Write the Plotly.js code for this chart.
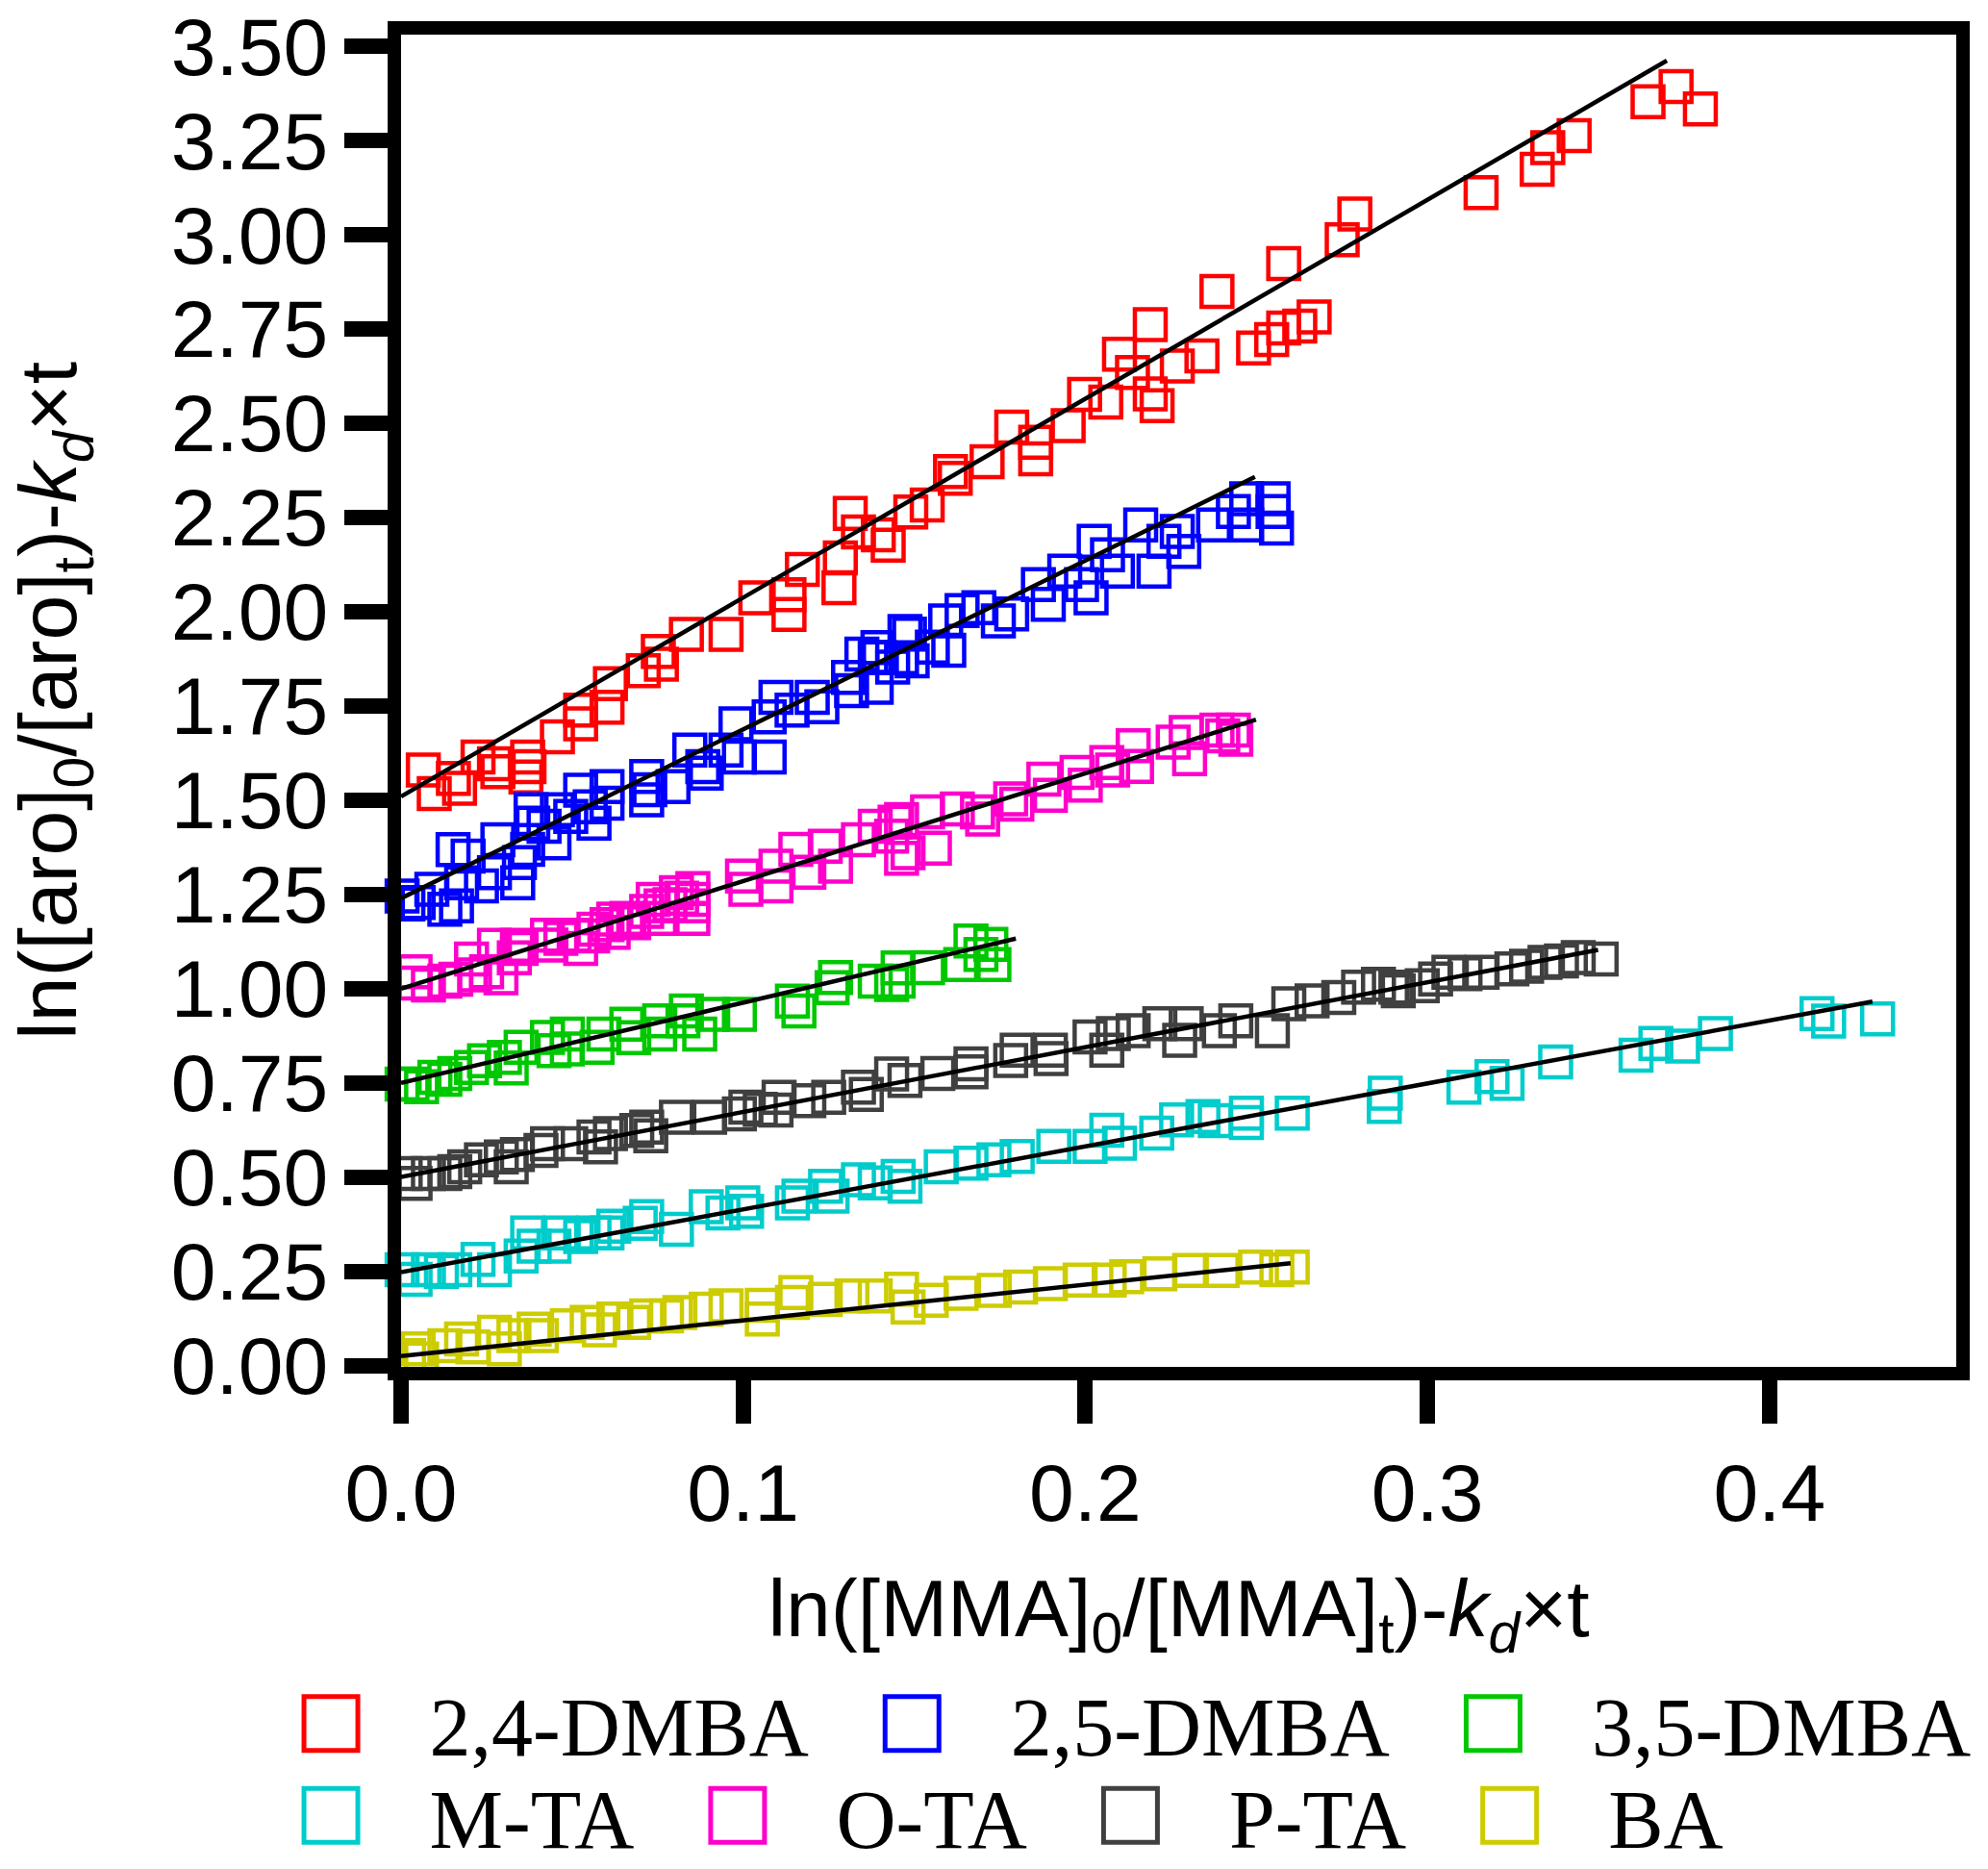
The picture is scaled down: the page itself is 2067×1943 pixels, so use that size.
<!DOCTYPE html>
<html>
<head>
<meta charset="utf-8">
<script src="https://cdn.plot.ly/plotly-3.0.1.min.js"></script>
<style>
  html, body { margin: 0; padding: 0; background: #fff; }
  #chart { width: 2067px; height: 1943px; }
</style>
</head>
<body>
<div id="chart"></div>
<script>
// 2,4-DMBA
const dmba24X = [0.0065, 0.0097, 0.0153, 0.0171, 0.0225, 0.0273, 0.0283, 0.0365, 0.0370, 0.0374,
  0.0457, 0.0525, 0.0525, 0.0602, 0.0612, 0.0708, 0.0752, 0.0761, 0.0834, 0.0950,
  0.1037, 0.1134, 0.1134, 0.1173, 0.1280, 0.1284, 0.1313, 0.1337, 0.1395, 0.1424,
  0.1490, 0.1538, 0.1606, 0.1620, 0.1713, 0.1785, 0.1855, 0.1855, 0.1950, 0.1998,
  0.2060, 0.2100, 0.2138, 0.2190, 0.2190, 0.2210, 0.2269, 0.2341, 0.2385, 0.2492,
  0.2545, 0.2580, 0.2627, 0.2669, 0.2580, 0.2751, 0.2788, 0.3157, 0.3321, 0.3352,
  0.3429, 0.3645, 0.3727, 0.3798];
const dmba24Y = [1.580, 1.518, 1.558, 1.532, 1.615, 1.597, 1.576, 1.562, 1.615, 1.589,
  1.668, 1.703, 1.739, 1.747, 1.809, 1.844, 1.895, 1.861, 1.940, 1.940,
  2.037, 1.993, 2.045, 2.112, 2.064, 2.143, 2.261, 2.212, 2.204, 2.177,
  2.265, 2.283, 2.372, 2.354, 2.398, 2.490, 2.450, 2.406, 2.494, 2.577,
  2.556, 2.683, 2.635, 2.762, 2.578, 2.547, 2.652, 2.679, 2.850, 2.700,
  2.722, 2.753, 2.758, 2.782, 2.924, 2.987, 3.055, 3.112, 3.174, 3.231,
  3.263, 3.353, 3.393, 3.334];

// 2,5-DMBA
const dmba25X = [0.0003, 0.0020, 0.0050, 0.0090, 0.0128, 0.0152, 0.0162, 0.0177, 0.0196, 0.0235,
  0.0273, 0.0283, 0.0341, 0.0346, 0.0370, 0.0380, 0.0385, 0.0418, 0.0447, 0.0457,
  0.0496, 0.0525, 0.0553, 0.0564, 0.0602, 0.0602, 0.0718, 0.0727, 0.0718, 0.0795,
  0.0844, 0.0882, 0.0892, 0.0950, 0.0979, 0.0989, 0.1076, 0.1076, 0.1096, 0.1143,
  0.1202, 0.1230, 0.1308, 0.1317, 0.1347, 0.1386, 0.1394, 0.1463, 0.1473, 0.1389,
  0.1398, 0.1437, 0.1486, 0.1494, 0.1553, 0.1592, 0.1601, 0.1640, 0.1689, 0.1746,
  0.1785, 0.1863, 0.1892, 0.1940, 0.1989, 0.2017, 0.2026, 0.2065, 0.2094, 0.2162,
  0.2201, 0.2230, 0.2269, 0.2288, 0.2375, 0.2433, 0.2472, 0.2472, 0.2549, 0.2559,
  0.2549];
const dmba25Y = [1.246, 1.225, 1.229, 1.264, 1.211, 1.369, 1.220, 1.281, 1.352, 1.273,
  1.308, 1.395, 1.281, 1.335, 1.370, 1.475, 1.439, 1.431, 1.387, 1.475,
  1.457, 1.527, 1.483, 1.439, 1.536, 1.492, 1.563, 1.528, 1.501, 1.536,
  1.633, 1.589, 1.572, 1.633, 1.703, 1.615, 1.615, 1.721, 1.773, 1.739,
  1.773, 1.748, 1.826, 1.791, 1.888, 1.878, 1.905, 1.878, 1.948, 1.800,
  1.879, 1.853, 1.941, 1.870, 1.906, 1.976, 1.898, 2.003, 2.011, 1.976,
  1.994, 2.072, 2.020, 2.108, 2.072, 2.037, 2.187, 2.151, 2.108, 2.230,
  2.108, 2.187, 2.213, 2.160, 2.230, 2.266, 2.230, 2.300, 2.266, 2.222,
  2.300];

// 3,5-DMBA
const dmba35X = [0.0003, 0.0032, 0.0060, 0.0099, 0.0128, 0.0157, 0.0206, 0.0244, 0.0302, 0.0322,
  0.0351, 0.0428, 0.0447, 0.0486, 0.0486, 0.0573, 0.0593, 0.0660, 0.0680, 0.0756,
  0.0756, 0.0824, 0.0834, 0.0873, 0.0911, 0.0989, 0.1144, 0.1163, 0.1260, 0.1270,
  0.1386, 0.1434, 0.1453, 0.1453, 0.1539, 0.1636, 0.1666, 0.1695, 0.1724, 0.1733];
const dmba35Y = [0.747, 0.747, 0.740, 0.765, 0.760, 0.775, 0.791, 0.809, 0.818, 0.790,
  0.845, 0.871, 0.836, 0.880, 0.840, 0.845, 0.880, 0.906, 0.870, 0.915,
  0.880, 0.915, 0.941, 0.880, 0.932, 0.932, 0.967, 0.941, 1.003, 1.030,
  1.020, 1.011, 1.055, 1.020, 1.056, 1.064, 1.127, 1.091, 1.118, 1.064];

// M-TA
const mtaX = [0.0003, 0.0041, 0.0080, 0.0118, 0.0157, 0.0225, 0.0273, 0.0351, 0.0370, 0.0389,
  0.0447, 0.0467, 0.0525, 0.0564, 0.0602, 0.0622, 0.0699, 0.0718, 0.0805, 0.0892,
  0.0941, 0.0999, 0.1010, 0.1144, 0.1163, 0.1241, 0.1260, 0.1337, 0.1386, 0.1453,
  0.1473, 0.1579, 0.1666, 0.1733, 0.1801, 0.1908, 0.2014, 0.2063, 0.2100, 0.2209,
  0.2267, 0.2344, 0.2380, 0.2471, 0.2471, 0.2605, 0.2877, 0.2874, 0.3107, 0.3189,
  0.3233, 0.3375, 0.3610, 0.3668, 0.3746, 0.3842, 0.4139, 0.4173, 0.4316];
const mtaY = [0.255, 0.229, 0.255, 0.250, 0.255, 0.282, 0.255, 0.291, 0.352, 0.317,
  0.317, 0.352, 0.343, 0.352, 0.352, 0.370, 0.378, 0.396, 0.362, 0.422,
  0.405, 0.432, 0.410, 0.432, 0.450, 0.476, 0.450, 0.493, 0.485, 0.502,
  0.476, 0.528, 0.537, 0.546, 0.555, 0.582, 0.582, 0.625, 0.590, 0.617,
  0.652, 0.661, 0.650, 0.670, 0.645, 0.670, 0.723, 0.688, 0.739, 0.767,
  0.749, 0.806, 0.824, 0.855, 0.848, 0.881, 0.934, 0.914, 0.920];

// O-TA
const otaX = [0.0041, 0.0080, 0.0128, 0.0160, 0.0215, 0.0250, 0.0292, 0.0331, 0.0351, 0.0438,
  0.0467, 0.0525, 0.0560, 0.0602, 0.0620, 0.0660, 0.0680, 0.0718, 0.0756, 0.0786,
  0.0820, 0.0853, 0.0853, 0.0041, 0.0206, 0.0273, 0.0340, 0.0428, 0.0506, 0.0564,
  0.0622, 0.0660, 0.0737, 0.0760, 0.0805, 0.0853, 0.0853, 0.0998, 0.1008, 0.1096,
  0.1096, 0.1154, 0.1192, 0.1240, 0.1270, 0.1337, 0.1386, 0.1434, 0.1463, 0.1482,
  0.1444, 0.1463, 0.1539, 0.1559, 0.1626, 0.1685, 0.1700, 0.1782, 0.1800, 0.1879,
  0.1898, 0.1976, 0.2000, 0.2063, 0.2080, 0.2140, 0.2150, 0.2257, 0.2295, 0.2305,
  0.2402, 0.2440, 0.2385, 0.2433];
const otaY = [1.015, 1.010, 1.020, 1.025, 1.037, 1.045, 1.029, 1.082, 1.107, 1.116,
  1.134, 1.107, 1.140, 1.170, 1.150, 1.187, 1.175, 1.205, 1.187, 1.223,
  1.240, 1.187, 1.266, 1.045, 1.079, 1.115, 1.115, 1.142, 1.142, 1.158,
  1.185, 1.180, 1.237, 1.220, 1.255, 1.237, 1.220, 1.299, 1.264, 1.273,
  1.325, 1.370, 1.309, 1.378, 1.325, 1.395, 1.431, 1.405, 1.449, 1.361,
  1.442, 1.346, 1.469, 1.373, 1.477, 1.469, 1.450, 1.504, 1.490, 1.556,
  1.513, 1.574, 1.540, 1.600, 1.580, 1.645, 1.590, 1.654, 1.680, 1.610,
  1.671, 1.662, 1.686, 1.686];

// P-TA
const ptaX = [0.0012, 0.0041, 0.0080, 0.0128, 0.0157, 0.0186, 0.0235, 0.0293, 0.0322, 0.0340,
  0.0409, 0.0428, 0.0496, 0.0564, 0.0583, 0.0612, 0.0689, 0.0718, 0.0730, 0.0805,
  0.0902, 0.0989, 0.1008, 0.1050, 0.1096, 0.1105, 0.1192, 0.1250, 0.1337, 0.1360,
  0.1434, 0.1473, 0.1569, 0.1666, 0.1666, 0.1782, 0.1801, 0.1898, 0.1900, 0.2014,
  0.2063, 0.2082, 0.2140, 0.2218, 0.2276, 0.2295, 0.2392, 0.2440, 0.2547, 0.2595,
  0.2663, 0.2741, 0.2799, 0.2857, 0.2915, 0.2908, 0.2985, 0.3024, 0.3063, 0.3110,
  0.3160, 0.3247, 0.3290, 0.3344, 0.3392, 0.3441, 0.3508];
const ptaY = [0.510, 0.484, 0.510, 0.510, 0.515, 0.528, 0.546, 0.554, 0.528, 0.560,
  0.571, 0.589, 0.589, 0.607, 0.581, 0.616, 0.624, 0.633, 0.610, 0.659,
  0.659, 0.668, 0.686, 0.680, 0.678, 0.712, 0.703, 0.712, 0.739, 0.720,
  0.774, 0.757, 0.775, 0.801, 0.780, 0.810, 0.837, 0.837, 0.815, 0.872,
  0.837, 0.881, 0.889, 0.907, 0.863, 0.907, 0.889, 0.915, 0.889, 0.960,
  0.968, 0.977, 1.004, 1.012, 0.995, 1.004, 1.008, 1.026, 1.044, 1.040,
  1.044, 1.053, 1.060, 1.070, 1.074, 1.083, 1.079];

// BA
const baX = [0.0022, 0.0060, 0.0050, 0.0128, 0.0177, 0.0210, 0.0273, 0.0302, 0.0330, 0.0389,
  0.0410, 0.0486, 0.0544, 0.0580, 0.0622, 0.0680, 0.0718, 0.0776, 0.0815, 0.0892,
  0.0950, 0.1056, 0.1056, 0.1144, 0.1154, 0.1240, 0.1318, 0.1386, 0.1463, 0.1482,
  0.1550, 0.1637, 0.1734, 0.1811, 0.1898, 0.1985, 0.2070, 0.2121, 0.2218, 0.2305,
  0.2400, 0.2498, 0.2560, 0.2605];
const baY = [0.027, 0.018, 0.045, 0.053, 0.071, 0.050, 0.089, 0.045, 0.080, 0.097,
  0.080, 0.106, 0.115, 0.095, 0.124, 0.115, 0.132, 0.132, 0.141, 0.150,
  0.159, 0.124, 0.160, 0.168, 0.194, 0.176, 0.185, 0.185, 0.203, 0.156,
  0.174, 0.192, 0.200, 0.209, 0.218, 0.227, 0.227, 0.236, 0.244, 0.253,
  0.253, 0.262, 0.255, 0.262];

// linear fits (start and end of each drawn line)
const fit24X = [0, 0.370], fit24Y = [1.510, 3.462];
const fit25X = [0, 0.2496], fit25Y = [1.240, 2.358];
const fit35X = [0, 0.1797], fit35Y = [0.750, 1.133];
const fitMX = [0, 0.4301], fitMY = [0.248, 0.966];
const fitOX = [0, 0.2499], fitOY = [1.000, 1.714];
const fitPX = [0, 0.3499], fitPY = [0.501, 1.103];
const fitBX = [0, 0.2600], fitBY = [0.0255, 0.272];

const names = ["2,4-DMBA", "2,5-DMBA", "3,5-DMBA", "M-TA", "O-TA", "P-TA", "BA"];
const colors = ["#ff0000", "#0000ff", "#00c800", "#00cccc", "#ff00cc", "#404040", "#cccc00"];
// first three entries on the top legend row, the rest on the second row
const legendRows = ["legend", "legend", "legend", "legend2", "legend2", "legend2", "legend2"];
const xs = [dmba24X, dmba25X, dmba35X, mtaX, otaX, ptaX, baX];
const ys = [dmba24Y, dmba25Y, dmba35Y, mtaY, otaY, ptaY, baY];
const fitXs = [fit24X, fit25X, fit35X, fitMX, fitOX, fitPX, fitBX];
const fitYs = [fit24Y, fit25Y, fit35Y, fitMY, fitOY, fitPY, fitBY];

const traces = [];
names.forEach((name, i) => {
  traces.push({
    x: xs[i],
    y: ys[i],
    type: "scatter",
    mode: "markers",
    name: name,
    legend: legendRows[i],
    cliponaxis: false,
    marker: {
      symbol: "square-open",
      size: 32,
      color: colors[i],
      line: { width: 4.5, color: colors[i] },
    },
  });
});
names.forEach((name, i) => {
  traces.push({
    x: fitXs[i],
    y: fitYs[i],
    type: "scatter",
    mode: "lines",
    showlegend: false,
    hoverinfo: "skip",
    line: { color: "#000", width: 4.5 },
  });
});

const sansFont = "Liberation Sans, Arial, sans-serif";
const serifFont = "Liberation Serif, Times New Roman, serif";
const axisCommon = {
  ticks: "outside",
  ticklen: 45,
  tickwidth: 16,
  tickcolor: "#000",
  showline: true,
  linewidth: 14,
  linecolor: "#000",
  mirror: true,
  showgrid: false,
  zeroline: false,
  tickfont: { family: sansFont, size: 84, color: "#000" },
};

const legendCommon = {
  orientation: "h",
  x: -0.1085,
  xanchor: "left",
  yanchor: "top",
  itemwidth: 195,
  bgcolor: "rgba(0,0,0,0)",
  font: { family: serifFont, size: 86, color: "#000" },
};

const layout = {
  width: 2067,
  height: 1943,
  margin: { l: 417, r: 33, t: 36, b: 522, autoexpand: false },
  paper_bgcolor: "#fff",
  plot_bgcolor: "#fff",
  showlegend: true,
  xaxis: {
    ...axisCommon,
    range: [0, 0.4546],
    tick0: 0,
    dtick: 0.1,
    tickformat: ".1f",
    title: {
      text: "ln([MMA]<sub>0</sub>/[MMA]<sub>t</sub>)-<i>k</i><sub><i>d</i></sub>×t",
      font: { family: sansFont, size: 84, color: "#000" },
      standoff: 50,
    },
  },
  yaxis: {
    ...axisCommon,
    range: [-0.003, 3.531],
    tick0: 0,
    dtick: 0.25,
    tickformat: ".2f",
    title: {
      text: "ln([aro]<sub>0</sub>/[aro]<sub>t</sub>)-<i>k</i><sub><i>d</i></sub>×t",
      font: { family: sansFont, size: 84, color: "#000" },
      standoff: 76,
    },
  },
  legend: { ...legendCommon, y: -0.2226 },
  legend2: { ...legendCommon, y: -0.2915 },
};

const config = { displayModeBar: false, responsive: false, staticPlot: true };

const legendSymbolSize = 56;

Plotly.newPlot("chart", traces, layout, config).then(() => {
  // legend squares are capped at 16px by plotly; enlarge them to match the figure
  const r = legendSymbolSize / 2;
  document.querySelectorAll(".legendpoints path.scatterpts").forEach((p) => {
    p.setAttribute("d", `M${r},${r}H-${r}V-${r}H${r}Z`);
    p.style.strokeWidth = "5px";
  });
});
</script>
</body>
</html>
